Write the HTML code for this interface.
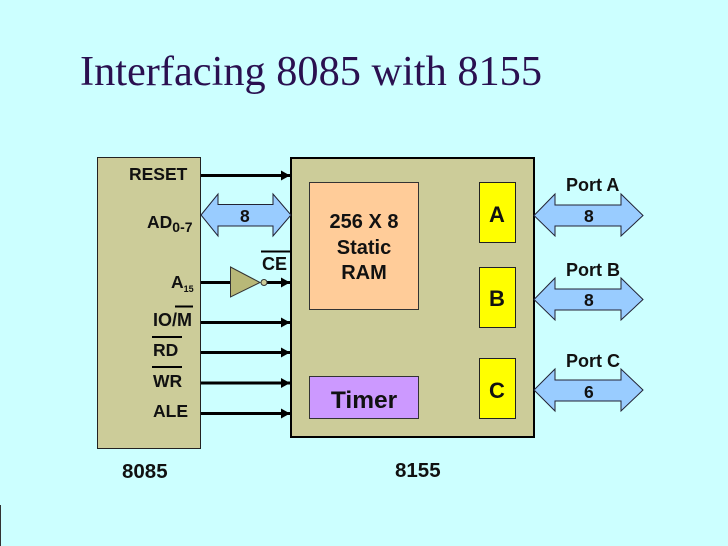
<!DOCTYPE html>
<html>
<head>
<meta charset="utf-8">
<style>
html,body{margin:0;padding:0;background:#ccffff;}
svg{display:block;}
text{font-family:"Liberation Sans",sans-serif;font-weight:bold;fill:#111;}
</style>
</head>
<body>
<svg width="728" height="546" viewBox="0 0 728 546" xmlns="http://www.w3.org/2000/svg">
<defs>
<marker id="ah" markerUnits="userSpaceOnUse" markerWidth="9" markerHeight="10" refX="9" refY="5" orient="auto"><path d="M0 0L9 5L0 10Z" fill="#000"/></marker>
</defs>
<rect width="728" height="546" fill="#ccffff"/>
<rect x="0" y="505" width="1" height="41" fill="#333"/>
<text x="80" y="85" style="font-family:'Liberation Serif',serif;font-weight:normal;font-size:42px;fill:#2a1050;" textLength="462" lengthAdjust="spacingAndGlyphs">Interfacing 8085 with 8155</text>

<rect x="97.5" y="157.5" width="103" height="291" fill="#cccc99" stroke="#222" stroke-width="1"/>
<rect x="291" y="158" width="243" height="279" fill="#cccc99" stroke="#000" stroke-width="2"/>
<rect x="309.5" y="182.5" width="109" height="127" fill="#ffcc99" stroke="#333" stroke-width="1"/>
<rect x="309.5" y="376.5" width="109" height="42" fill="#cc99ff" stroke="#333" stroke-width="1"/>
<rect x="479.5" y="182.5" width="36" height="60" fill="#ffff00" stroke="#222" stroke-width="1"/>
<rect x="479.5" y="267.5" width="36" height="60" fill="#ffff00" stroke="#222" stroke-width="1"/>
<rect x="479.5" y="358.5" width="36" height="60" fill="#ffff00" stroke="#222" stroke-width="1"/>

<g stroke="#000" stroke-width="3" fill="none">
<line x1="201" y1="175.5" x2="290" y2="175.5" marker-end="url(#ah)"/>
<line x1="201" y1="322.5" x2="290" y2="322.5" marker-end="url(#ah)"/>
<line x1="201" y1="352.5" x2="290" y2="352.5" marker-end="url(#ah)"/>
<line x1="201" y1="383" x2="290" y2="383" marker-end="url(#ah)"/>
<line x1="201" y1="413.5" x2="290" y2="413.5" marker-end="url(#ah)"/>
<line x1="201" y1="282.5" x2="231" y2="282.5"/>
<line x1="267" y1="282.5" x2="290" y2="282.5" marker-end="url(#ah)"/>
</g>
<path d="M230.5 267L260 282.5L230.5 297Z" fill="#b8b878" stroke="#333" stroke-width="1"/>
<circle cx="264" cy="282.5" r="3" fill="#cccc99" stroke="#333" stroke-width="1"/>
<line x1="261" y1="251.5" x2="291" y2="251.5" stroke="#000" stroke-width="2"/>

<g fill="#99ccff" stroke="#223" stroke-width="1">
<path d="M201 215L218 194V204.5H273V194L291 215L273 236V226H218V236Z"/>
<path d="M534 215.500L555 194V205H621V194L643 215.500L621 236V226H555V236Z"/>
<path d="M534 299.500L555 278V289H621V278L643 299.500L621 320V310H555V320Z"/>
<path d="M534 390L555 369V380H621V369L643 390L621 411V401H555V411Z"/>
</g>

<g font-size="17.5">
<text x="129" y="180">RESET</text>
<text x="147" y="228">AD<tspan font-size="14" dy="4">0-7</tspan></text>
<text x="171" y="288">A<tspan font-size="9" dy="4">15</tspan></text>
<text x="153" y="326" font-size="18">IO/M</text>
<text x="153" y="356">RD</text>
<text x="153" y="387">WR</text>
<text x="153" y="417">ALE</text>
<text x="262" y="270" font-size="18">CE</text>
<text x="240" y="222">8</text>
<text x="566" y="191" font-size="18">Port A</text>
<text x="566" y="276" font-size="18">Port B</text>
<text x="566" y="367" font-size="18">Port C</text>
<text x="584" y="222">8</text>
<text x="584" y="306">8</text>
<text x="584" y="398">6</text>
<text x="122" y="478" font-size="20.5">8085</text>
<text x="395" y="477" font-size="20.5">8155</text>
</g>
<g stroke="#000" stroke-width="2">
<line x1="175" y1="306.500" x2="193" y2="306.500"/>
<line x1="152" y1="337" x2="182" y2="337"/>
<line x1="152" y1="367" x2="182" y2="367"/>
</g>
<g font-size="20" text-anchor="middle">
<text x="364" y="228">256 X 8</text>
<text x="364" y="254">Static</text>
<text x="364" y="279">RAM</text>
</g>
<text x="364" y="408" font-size="24.5" text-anchor="middle">Timer</text>
<g font-size="22" text-anchor="middle">
<text x="497" y="222">A</text>
<text x="497" y="306">B</text>
<text x="497" y="398">C</text>
</g>
</svg>
</body>
</html>
